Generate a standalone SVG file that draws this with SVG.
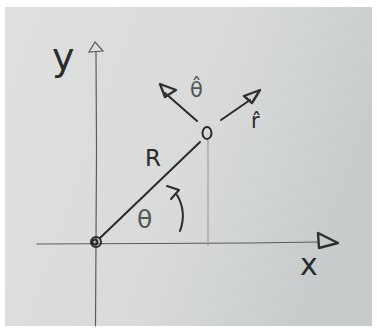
<svg xmlns="http://www.w3.org/2000/svg" width="377" height="328" viewBox="0 0 377 328">
<defs>
<linearGradient id="paper" x1="0" y1="0" x2="1" y2="0.3">
<stop offset="0" stop-color="#dde0df"/>
<stop offset="0.6" stop-color="#d8dbda"/>
<stop offset="1" stop-color="#c9cccd"/>
</linearGradient>
<style>
.pencil{fill:none;stroke:#5a5c5c;stroke-width:1.2;stroke-linecap:round}
.thin{fill:none;stroke:#8a8c8c;stroke-width:0.9}
.pen{fill:none;stroke:#2a2b2b;stroke-width:2;stroke-linecap:round;stroke-linejoin:round}
.head{fill:none;stroke:#2f3030;stroke-width:2.4;stroke-linejoin:round}
.lbl{font-family:"DejaVu Sans","Liberation Sans",sans-serif;fill:#2a2b2b}
.glbl{font-family:"DejaVu Sans","Liberation Sans",sans-serif;fill:#555757}
</style>
</defs>
<rect width="377" height="328" fill="#ffffff"/>
<rect x="5" y="7" width="367" height="319" fill="url(#paper)"/>

<g id="connectors">
<path id="y-axis" class="pencil" d="M96,52 L96.5,150 L96,240 L95.5,326"/>
<path id="y-head" class="pencil" d="M89,52 L95,42 L103,51 Z" stroke-width="1.4"/>
<path id="x-axis" class="pencil" d="M37,244 L150,243.5 L250,243 L318,242"/>
<path id="x-head" class="head" d="M318,233 L338,243 L319,248 Z"/>
<path id="radius" class="pen" d="M100,238 L200,142" stroke-width="1.6"/>
<path id="proj" class="thin" d="M208,140 L208,246"/>
<path id="theta-shaft" class="pen" d="M197,121 L165,93" stroke-width="2.4"/>
<path id="theta-head" class="head" d="M160,84 L176,90 L165,97 Z"/>
<path id="r-shaft" class="pen" d="M221,120 L250,100" stroke-width="2.2"/>
<path id="r-head" class="head" d="M260,90 L244,96 L252,103 Z" stroke="#4a4b4b"/>
<path id="angle-arc" class="pen" d="M177,195 Q187,212 180,231" stroke-width="1.6"/>
<path id="angle-head" class="pen" d="M167,186 L179,190 L171,199" stroke="#4a4b4b" stroke-width="1.6"/>
</g>

<g id="origin">
<circle cx="96" cy="242" r="5" class="pen" stroke-width="1.8"/>
<circle cx="95" cy="242" r="2.5" class="pen" stroke-width="1.2"/>
</g>
<g id="point">
<ellipse cx="207" cy="133" rx="4.5" ry="6" class="pen" stroke-width="1.5" stroke="#444"/>
</g>

<g id="labels">
<text class="lbl" x="52" y="70" font-size="38">y</text>
<text class="lbl" x="300" y="275" font-size="30">x</text>
<text class="lbl" x="145" y="166" font-size="23">R</text>
<text class="glbl" x="137" y="228" font-size="25">θ</text>
<text class="glbl" x="190" y="97" font-size="21">θ̂</text>
<text class="lbl" x="251" y="128" font-size="21">r̂</text>
</g>
</svg>
